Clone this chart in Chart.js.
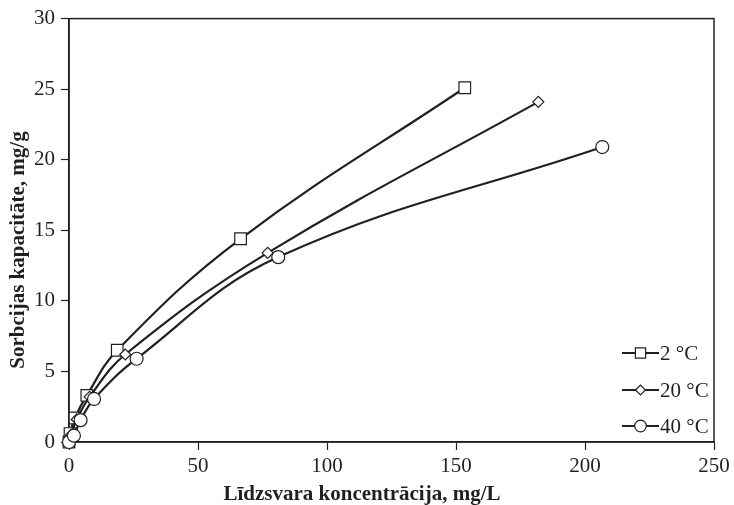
<!DOCTYPE html>
<html>
<head>
<meta charset="utf-8">
<script src="https://cdn.jsdelivr.net/npm/chart.js@4.4.1/dist/chart.umd.min.js"></script>
<style>
  html, body { margin: 0; padding: 0; background: #fff; }
  #wrap { width: 734px; height: 505px; position: relative; }
</style>
</head>
<body>
<div id="wrap"><canvas id="c" width="734" height="505"></canvas></div>
<script>
// Equilibrium concentration (mg/L) and sorption capacity (mg/g) at three temperatures
const seriesNames = ['2 °C', '20 °C', '40 °C'];
const conc2  = [0, 0.4, 2.3, 6.9, 18.7, 66.5, 153.4];
const cap2   = [0, 0.6, 1.7, 3.3, 6.5, 14.4, 25.1];
const conc20 = [0, 0.8, 3.0, 8.0, 21.8, 77.0, 181.9];
const cap20  = [0, 0.5, 1.6, 3.2, 6.2, 13.4, 24.1];
const conc40 = [0, 1.9, 4.5, 9.7, 26.2, 81.1, 206.7];
const cap40  = [0, 0.45, 1.55, 3.05, 5.9, 13.1, 20.9];
const xTicks = [0, 50, 100, 150, 200, 250];
const yTicks = [0, 5, 10, 15, 20, 25, 30];
const xTitle = 'Līdzsvara koncentrācija, mg/L';
const yTitle = 'Sorbcijas kapacitāte, mg/g';

const ink = '#231f20';
const serif = '"Liberation Serif", "DejaVu Serif", serif';

function pts(xs, ys) { return xs.map((x, i) => ({ x: x, y: ys[i] })); }

const styles = [
  { pointStyle: 'rect', pointRadius: 8.2, order: 2 },
  { pointStyle: 'rectRot', pointRadius: 5.5, order: 1 },
  { pointStyle: 'circle', pointRadius: 6.5, order: 0 }
];
const data = [pts(conc2, cap2), pts(conc20, cap20), pts(conc40, cap40)];

const datasets = data.map((d, i) => ({
  label: seriesNames[i],
  data: d,
  borderColor: ink,
  borderWidth: 2.2,
  backgroundColor: '#fff',
  pointBackgroundColor: '#fff',
  pointBorderColor: ink,
  pointBorderWidth: 1.2,
  pointStyle: styles[i].pointStyle,
  pointRadius: styles[i].pointRadius,
  pointHoverRadius: styles[i].pointRadius,
  tension: 0.4,
  fill: false,
  clip: 10,
  order: styles[i].order
}));

// Frame around the plot area, axis titles and a legend with line-and-marker samples
const framePlugin = {
  id: 'frame',
  beforeDatasetsDraw(chart) {
    const a = chart.chartArea, ctx = chart.ctx;
    ctx.save();
    ctx.strokeStyle = ink;
    ctx.lineWidth = 1.5;
    ctx.strokeRect(a.left, a.top, a.right - a.left, a.bottom - a.top);
    ctx.restore();
  },
  afterDraw(chart) {
    const ctx = chart.ctx;
    ctx.save();
    // axis titles
    ctx.fillStyle = ink;
    ctx.font = 'bold 21px ' + serif;
    ctx.textAlign = 'center';
    ctx.textBaseline = 'alphabetic';
    ctx.fillText(xTitle, 362, 500);
    ctx.save();
    ctx.translate(24, 250);
    ctx.rotate(-Math.PI / 2);
    ctx.fillText(yTitle, 0, 0);
    ctx.restore();

    // legend
    const ys = [353, 390, 426];
    chart.data.datasets.forEach((ds, i) => {
      const y = ys[i];
      ctx.strokeStyle = ink;
      ctx.lineWidth = 2;
      ctx.beginPath();
      ctx.moveTo(622, y);
      ctx.lineTo(659, y);
      ctx.stroke();
      ctx.fillStyle = '#fff';
      ctx.lineWidth = 1.2;
      const r = ds.pointStyle === 'rect' ? 7.2 : (ds.pointStyle === 'rectRot' ? 5 : 5.8);
      Chart.helpers.drawPoint(ctx, { pointStyle: ds.pointStyle, radius: r, rotation: 0, borderWidth: 1.2 }, 640.5, y);
      ctx.fillStyle = ink;
      ctx.font = '21px ' + serif;
      ctx.textBaseline = 'middle';
      ctx.textAlign = 'left';
      ctx.fillText(ds.label, 660, y + 1);
    });
    ctx.restore();
  }
};

new Chart(document.getElementById('c'), {
  type: 'line',
  data: { datasets: datasets },
  plugins: [framePlugin],
  options: {
    responsive: false,
    animation: false,
    layout: { padding: { top: 18, right: 20, left: 0, bottom: 0 } },
    plugins: { legend: { display: false }, tooltip: { enabled: false } },
    scales: {
      x: {
        type: 'linear',
        min: 0, max: 250,
        afterBuildTicks(scale) { scale.ticks = xTicks.map(v => ({ value: v })); },
        afterFit(scale) { scale.height = 63; },
        border: { display: true, color: ink, width: 1.5 },
        grid: { drawOnChartArea: false, drawTicks: true, tickLength: 8, tickColor: ink, tickWidth: 1.2 },
        ticks: { color: ink, font: { family: serif, size: 21 }, padding: 4, maxRotation: 0 }
      },
      y: {
        type: 'linear',
        min: 0, max: 30,
        afterBuildTicks(scale) { scale.ticks = yTicks.map(v => ({ value: v })); },
        afterFit(scale) { scale.width = 69; },
        border: { display: true, color: ink, width: 1.5 },
        grid: { drawOnChartArea: false, drawTicks: true, tickLength: 8, tickColor: ink, tickWidth: 1.2 },
        ticks: { color: ink, font: { family: serif, size: 21 }, padding: 6 }
      }
    }
  }
});
</script>
</body>
</html>
